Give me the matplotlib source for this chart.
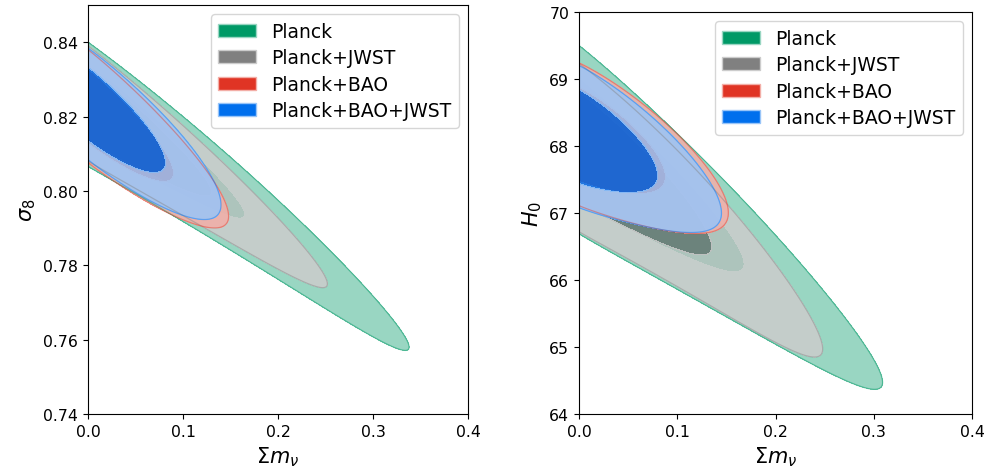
import numpy as np
import matplotlib
matplotlib.use('Agg')
import matplotlib.pyplot as plt
from matplotlib.patches import Patch
from matplotlib.colors import to_rgb

labels = ['Planck', 'Planck+JWST', 'Planck+BAO', 'Planck+BAO+JWST']
colors = ['#009966', 'gray', '#E03424', '#006FED']

# posterior shape per data set:
# centre at mnu=0, slope and bend of the degeneracy, 95% half width at mnu=0,
# 68% / 95% upper end in mnu, narrowing of the width along mnu
s8_y0 = [0.8233, 0.8235, 0.8228, 0.8234]
s8_slope = [-0.1662, -0.1723, -0.200, -0.194]
s8_curv = [-0.08, -0.08, 0.0, 0.0]
s8_half = [0.0167, 0.0155, 0.0152, 0.0150]
s8_x68 = [0.165, 0.130, 0.090, 0.0816]
s8_x95 = [0.338, 0.252, 0.148, 0.140]
s8_taper = [0.10, 0.15, 0.0, -0.15]

h0_y0 = [68.095, 67.975, 68.175, 68.14]
h0_slope = [-10.24, -9.51, -6.5, -6.49]
h0_curv = [-4.8, -10.5, -8.0, -9.5]
h0_half = [1.405, 1.255, 1.065, 1.06]
h0_x68 = [0.168, 0.135, 0.088, 0.080]
h0_x95 = [0.309, 0.248, 0.152, 0.145]
h0_taper = [0.21, 0.10, 0.0, 0.0]

mnu_ticks = [0.0, 0.1, 0.2, 0.3, 0.4]
s8_ticks = [0.74, 0.76, 0.78, 0.80, 0.82, 0.84]
h0_ticks = [64, 65, 66, 67, 68, 69, 70]

K68, K95 = 2.6, 6.0


def chi2(X, Y, y0, slope, curv, half, x68, x95, taper):
    p = np.log(K68 / K95) / np.log(x68 / x95)
    sx = x95 / K95 ** (1 / p)
    sy = half / np.sqrt(K95)
    w = sy * np.clip(1 - taper * X / x95, 0.05, None)
    m = y0 + slope * X + curv * X ** 2
    return (X / sx) ** p + ((Y - m) / w) ** 2


def pale(c, f=0.6):
    r = np.array(to_rgb(c))
    return tuple(r * (1 - f) + f)


def panel(ax, ylim, pars):
    x = np.linspace(0, 0.4, 500)
    y = np.linspace(ylim[0], ylim[1], 500)
    X, Y = np.meshgrid(x, y)
    for i in range(len(labels)):
        Z = chi2(X, Y, *[v[i] for v in pars])
        a = 1.0 if i == 0 else 0.85
        ax.contourf(X, Y, Z, levels=[0, K68, K95],
                    colors=[colors[i], pale(colors[i])], alpha=a)
        ax.contour(X, Y, Z, levels=[K95], colors=[colors[i]],
                   linewidths=0.9, alpha=0.5 * a)
    ax.set_xlim(0, 0.4)
    ax.set_ylim(*ylim)
    ax.set_xticks(mnu_ticks)
    ax.tick_params(labelsize=11.3)
    ax.set_xlabel(r'$\Sigma m_\nu$', fontsize=15)
    handles = [Patch(facecolor=c, edgecolor=pale(c), linewidth=1) for c in colors]
    ax.legend(handles, labels, loc='upper right', fontsize=13.5,
              labelspacing=0.4)


fig = plt.figure(figsize=(9.87, 4.77), dpi=100)
ax1 = fig.add_axes([88 / 987, 62 / 477, 380 / 987, 409 / 477])
ax2 = fig.add_axes([579 / 987, 62 / 477, 393 / 987, 402 / 477])

panel(ax1, (0.74, 0.85),
      [s8_y0, s8_slope, s8_curv, s8_half, s8_x68, s8_x95, s8_taper])
ax1.set_yticks(s8_ticks)
ax1.set_ylabel(r'$\sigma_8$', fontsize=15)

panel(ax2, (64, 70),
      [h0_y0, h0_slope, h0_curv, h0_half, h0_x68, h0_x95, h0_taper])
ax2.set_yticks(h0_ticks)
ax2.set_ylabel(r'$H_0$', fontsize=15)

fig.savefig('out.png', dpi=100)
